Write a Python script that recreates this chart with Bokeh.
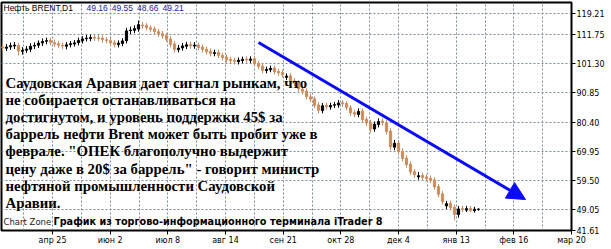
from bokeh.plotting import figure
from bokeh.models import ColumnDataSource, FixedTicker, Label, Arrow, NormalHead, Range1d
from bokeh.embed import file_html
from bokeh.resources import INLINE

# ---------------- data ----------------
opens = [107.3, 106.8, 107.3, 107.6, 107.8, 105.7, 106.1, 106.4, 107.6, 107.9,
         108.7, 109.3, 109.6, 108.8, 108.4, 107.8, 107.5, 108.1, 108.3, 108.8,
         109.5, 110.2, 110.3, 110.7, 110.5, 110.4, 109.8, 109.5, 108.8, 108.1,
         108.5, 109.5, 113.1, 113.2, 113.7, 115.1, 114.9, 114.1, 113.7, 112.7,
         112.0, 111.3, 110.1, 108.3, 106.3, 106.9, 107.5, 108.1, 107.6, 107.9,
         107.2, 106.4, 105.7, 104.9, 105.3, 104.2, 103.6, 102.8, 102.4, 102.0,
         102.4, 102.9, 102.5, 103.0, 101.3, 100.4, 98.8, 99.1, 99.7, 98.5,
         98.1, 96.4, 96.9, 95.1, 94.4, 92.2, 91.5, 89.4, 88.7, 86.5,
         84.5, 86.3, 85.8, 86.4, 86.5, 87.3, 87.0, 85.5, 83.8, 83.1,
         84.3, 81.3, 80.2, 77.9, 79.5, 80.7, 80.1, 77.1, 71.4, 72.9,
         69.9, 67.5, 65.3, 62.6, 60.8, 61.3, 60.7, 60.3, 59.7, 57.3,
         54.7, 50.4, 51.3, 49.9, 47.3, 49.4, 48.9, 49.5, 48.7, 49.16]
highs = [108.6, 108.3, 108.8, 109.0, 108.7, 107.2, 107.6, 108.6, 108.9, 109.6,
         110.3, 110.6, 110.6, 109.9, 109.4, 108.8, 109.0, 109.4, 109.7, 110.6,
         111.1, 111.5, 111.6, 111.6, 111.5, 111.3, 110.8, 110.5, 109.7, 109.6,
         110.4, 114.1, 114.5, 115.0, 116.7, 116.2, 115.8, 115.0, 114.6, 113.7,
         113.0, 112.3, 111.1, 109.3, 108.0, 108.7, 109.1, 109.1, 109.0, 108.8,
         108.2, 107.4, 106.7, 106.3, 106.3, 105.2, 104.6, 103.8, 103.4, 103.5,
         103.8, 103.9, 103.9, 104.1, 102.3, 101.4, 100.2, 100.6, 100.6, 99.5,
         99.1, 97.8, 97.9, 96.1, 95.3, 93.3, 92.5, 90.5, 89.6, 87.5,
         87.2, 87.4, 87.3, 87.6, 88.3, 88.3, 87.9, 86.5, 84.8, 85.3,
         85.3, 82.3, 81.2, 80.6, 81.7, 81.7, 81.1, 78.2, 74.0, 74.0,
         71.0, 68.5, 66.3, 63.6, 62.5, 62.3, 61.7, 61.3, 60.6, 58.3,
         55.7, 52.2, 52.3, 50.9, 50.4, 50.5, 50.4, 50.4, 50.1, 49.55]
lows = [105.7, 105.8, 106.2, 106.5, 104.2, 104.5, 105.1, 105.4, 106.5, 106.9,
        107.6, 108.2, 107.9, 107.3, 106.9, 106.5, 106.4, 107.1, 107.4, 107.8,
        108.5, 109.2, 109.3, 109.4, 109.3, 108.8, 108.5, 107.7, 107.1, 107.1,
        107.5, 108.5, 111.9, 112.2, 112.7, 113.6, 113.2, 112.5, 111.8, 110.9,
        110.2, 109.1, 107.1, 105.2, 105.3, 105.9, 106.5, 106.6, 106.6, 106.1,
        105.2, 104.6, 103.9, 103.9, 103.3, 102.4, 101.7, 101.3, 101.0, 101.0,
        101.4, 101.6, 101.5, 100.3, 99.3, 97.8, 97.8, 98.2, 97.4, 96.9,
        96.3, 95.4, 94.2, 93.3, 91.3, 90.3, 88.5, 87.5, 85.3, 83.5,
        83.5, 84.8, 84.8, 85.4, 85.5, 85.9, 84.6, 82.6, 82.1, 82.1,
        80.1, 79.0, 76.6, 76.9, 78.5, 79.1, 75.9, 70.3, 70.3, 68.7,
        66.3, 64.1, 61.4, 60.4, 59.8, 59.5, 59.1, 58.5, 56.2, 53.5,
        50.9, 49.3, 48.8, 45.2, 46.2, 48.2, 48.2, 48.1, 48.0, 48.66]
closes = [106.9, 107.2, 107.7, 107.9, 105.8, 106.0, 106.5, 107.5, 107.8, 108.6,
          109.2, 109.5, 108.9, 108.3, 107.9, 107.6, 108.0, 108.4, 108.7, 109.6,
          110.1, 110.4, 110.6, 110.4, 110.3, 109.9, 109.6, 108.7, 108.2, 108.6,
          109.4, 113.0, 113.3, 113.8, 115.2, 114.8, 114.2, 113.6, 112.8, 111.9,
          111.2, 110.0, 108.2, 106.4, 106.8, 107.6, 108.0, 107.7, 107.9, 107.1,
          106.3, 105.6, 105.0, 105.2, 104.3, 103.5, 102.7, 102.3, 102.1, 102.5,
          102.8, 102.6, 102.9, 101.2, 100.3, 98.9, 99.2, 99.6, 98.4, 98.0,
          97.3, 96.8, 95.2, 94.3, 92.3, 91.4, 89.5, 88.6, 86.4, 84.6,
          86.2, 85.9, 86.3, 86.6, 87.2, 86.9, 85.6, 83.7, 83.2, 84.2,
          81.2, 80.1, 78.0, 79.6, 80.6, 80.2, 77.0, 71.5, 72.8, 69.8,
          67.4, 65.2, 62.5, 61.6, 61.2, 60.6, 60.2, 59.6, 57.2, 54.6,
          52.0, 51.2, 49.8, 47.4, 49.3, 49.1, 49.4, 48.8, 49.2, 49.21]

price_ticks = [41.61, 49.05, 59.50, 69.95, 80.40, 90.85, 101.30, 111.75, 119.21]
price_labels = ["41.61", "49.05", "59.50", "69.95", "80.40", "90.85", "101.30", "111.75", "119.21"]
date_labels = ["апр 25", "июн 2", "июл 8", "авг 14", "сен 21", "окт 28", "дек 4", "янв 13", "фев 16", "мар 20"]
date_pos = [12.5, 26.92, 41.33, 55.75, 70.17, 84.58, 99.0, 113.42, 127.83, 142.25]
grid_mid = [5.29, 19.71, 34.13, 48.54, 62.96, 77.38, 91.79, 106.21, 120.63, 135.04]

header_name = "Нефть BRENT,D1"
header_ohlc = ["49.16", "49.55", "48.66", "49.21"]
note_lines = [
    "Саудовская Аравия дает сигнал рынкам, что",
    "не собирается останавливаться на",
    "достигнутом, и уровень поддержки 45$ за",
    "баррель нефти Brent может быть пробит уже в",
    "феврале. \"ОПЕК благополучно выдержит",
    "цену даже в 20$ за баррель\" - говорит министр",
    "нефтяной промышленности Саудовской",
    "Аравии.",
]
footer_small = "Chart Zone"
footer_bold = "График из торгово-информационного терминала iTrader 8"
arrow_start = (64.0, 108.85)
arrow_end = (130.75, 52.7)

# ---------------- layout ----------------
X0, X1 = -0.25, 142.25
Y0, Y1 = 41.61, 123.15
FL, FT, FW, FH = 1, 2, 570, 228


def dx(px):
    return X0 + (px - FL) * (X1 - X0) / FW


def dy(py):
    return Y1 - (py - FT) * (Y1 - Y0) / FH


p = figure(width=611, height=249, x_range=Range1d(X0, X1), y_range=Range1d(Y0, Y1),
           y_axis_location="right", output_backend="svg", toolbar_location=None,
           min_border_left=FL, min_border_top=FT, min_border_right=40, min_border_bottom=19)
p.background_fill_color = "white"
p.border_fill_color = "white"
p.outline_line_color = "black"
p.outline_line_width = 2

GRID = "#7d8b9b"
# y axis
p.yaxis.ticker = FixedTicker(ticks=price_ticks)
p.yaxis.major_label_overrides = {t: s for t, s in zip(price_ticks, price_labels)}
p.yaxis.major_tick_out = 4
p.yaxis.major_tick_in = 0
p.yaxis.minor_tick_line_color = None
p.yaxis.major_label_standoff = 1
p.yaxis.axis_line_color = "black"
p.yaxis.major_tick_line_color = "black"
p.yaxis.major_label_text_font = "DejaVu Sans"
p.yaxis.major_label_text_font_size = "8px"
p.yaxis.major_label_text_color = "black"
# x axis
p.xaxis.ticker = FixedTicker(ticks=date_pos, minor_ticks=grid_mid)
p.xaxis.major_label_overrides = {t: s for t, s in zip(date_pos, date_labels)}
p.xaxis.major_tick_out = 4
p.xaxis.major_tick_in = 0
p.xaxis.minor_tick_line_color = None
p.xaxis.major_label_standoff = 1
p.xaxis.axis_line_color = "black"
p.xaxis.major_tick_line_color = "black"
p.xaxis.major_label_text_font = "DejaVu Sans"
p.xaxis.major_label_text_font_size = "8px"
p.xaxis.major_label_text_color = "black"
# grids
for g in (p.xgrid, p.ygrid):
    g.grid_line_color = GRID
    g.grid_line_dash = "2 2"
    g.grid_line_width = 1
p.xgrid.minor_grid_line_color = GRID
p.xgrid.minor_grid_line_dash = "2 2"

# ---------------- candles ----------------
BULL = "#000000"
BEAR = "#cc8d5c"
src = ColumnDataSource(dict(
    x=list(range(len(closes))), o=opens, h=highs, l=lows, c=closes,
    top=[max(a, b) for a, b in zip(opens, closes)],
    bot=[min(a, b) for a, b in zip(opens, closes)],
    color=[BULL if c >= o else BEAR for o, c in zip(opens, closes)],
))
p.segment(x0="x", y0="l", x1="x", y1="h", line_color="color", line_width=1, source=src)
p.vbar(x="x", top="top", bottom="bot", width=0.55, fill_color="color", line_color="color",
       line_width=1, source=src)

# ---------------- arrow ----------------
p.add_layout(Arrow(end=NormalHead(size=18, fill_color="#0a0aff", line_color="#0a0aff"),
                   x_start=arrow_start[0], y_start=arrow_start[1],
                   x_end=arrow_end[0], y_end=arrow_end[1],
                   line_color="#0a0aff", line_width=3))

# ---------------- texts ----------------
p.add_layout(Label(x=dx(3), y=dy(7), text=header_name, text_font="Liberation Sans",
                   text_font_size="8.5px", text_color="black", text_baseline="middle"))
for k, s in enumerate(header_ohlc):
    p.add_layout(Label(x=dx(86 + 25.3 * k), y=dy(7), text=s, text_font="Liberation Sans",
                       text_font_size="8.5px", text_color="#1c1c94", text_baseline="middle"))

for k, line in enumerate(note_lines):
    p.add_layout(Label(x=dx(5), y=dy(82 + 17.2 * k), text=line, text_font="Liberation Serif",
                       text_font_style="bold", text_font_size="14.8px", text_color="black",
                       text_baseline="middle"))

p.add_layout(Label(x=dx(3), y=dy(221), text=footer_small, text_font="DejaVu Sans",
                   text_font_size="8.5px", text_color="#222222", text_baseline="middle"))
p.add_layout(Label(x=dx(53), y=dy(221), text=footer_bold, text_font="DejaVu Sans",
                   text_font_style="bold", text_font_size="9.7px", text_color="black",
                   text_baseline="middle"))

open("out.html", "w").write(file_html(p, INLINE))
